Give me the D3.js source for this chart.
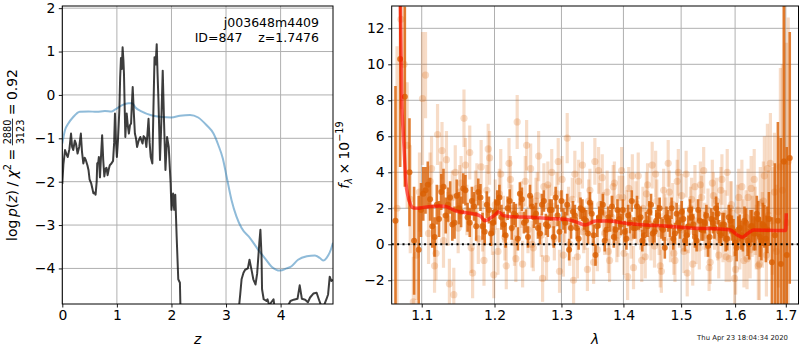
<!DOCTYPE html>
<html><head><meta charset="utf-8">
<script src="https://cdn.jsdelivr.net/npm/d3@7"></script>
<style>
body{margin:0;background:#fff}
svg{display:block}
text{font-family:"DejaVu Sans",sans-serif}
</style>
</head><body>
<svg id="c" width="800" height="350"></svg>
<script>
// ---------------- DATA ----------------
// Left panel: log p(z)
const pzZ = [0.00,0.02,0.05,0.08,0.10,0.13,0.16,0.18,0.20,0.23,0.25,0.28,0.31,0.34,0.36,0.385,0.41,0.43,0.46,0.48,
  0.50,0.53,0.55,0.57,0.59,0.61,0.63,0.64,0.66,0.67,0.69,0.71,0.73,0.75,0.77,0.79,0.81,0.83,0.85,0.87,
  0.90,0.93,0.95,0.965,0.98,1.00,1.02,1.045,1.06,1.075,1.09,1.105,1.12,1.13,1.145,1.155,1.17,1.18,1.20,1.22,
  1.24,1.26,1.275,1.29,1.31,1.33,1.35,1.37,1.40,1.43,1.45,1.47,1.49,1.52,1.54,1.56,1.58,1.60,1.62,1.65,
  1.67,1.69,1.71,1.73,1.745,1.76,1.78,1.79,1.81,1.84,1.865,1.89,1.92,1.95,1.985,2.00,2.03,2.05,2.07,2.095,
  2.125,2.155,2.17,2.20,3.20,3.24,3.26,3.285,3.32,3.35,3.40,3.43,3.47,3.50,3.54,3.57,3.61,3.63,3.65,3.66,
  3.69,3.74,3.76,3.79,3.83,3.87,3.89,3.95,4.10,4.14,4.18,4.24,4.31,4.35,4.39,4.45,4.50,4.54,4.60,4.66,
  4.70,4.74,4.78,4.84,4.87,4.90,4.93,4.96];
const pzLogP = [-2.05,-1.6,-1.27,-1.38,-1.43,-1.25,-0.89,-1.2,-1.27,-1.05,-1.12,-1.35,-1.2,-0.89,-1.3,-1.58,-1.45,-1.5,-1.62,-1.73,
  -1.95,-2.04,-2.15,-2.27,-2.25,-2.3,-2.0,-1.58,-1.55,-1.43,-1.9,-1.4,-0.93,-1.5,-1.88,-1.7,-1.68,-1.85,-1.72,-1.62,
  -1.58,-1.52,-1.1,-0.43,-1.0,-1.43,-1.05,-0.36,0.4,0.85,0.6,1.1,0.8,0.49,-0.4,-0.97,-0.6,-0.43,-0.7,-0.89,
  -0.7,-0.66,-0.2,0.18,-0.4,-0.89,-1.0,-1.2,-1.05,-0.97,-1.05,-1.12,-0.95,-1.0,-1.2,-0.9,-0.55,-1.1,-1.43,-1.58,
  -0.3,0.87,0.7,1.17,0.5,-0.05,-1.0,-1.5,-0.8,0.56,-0.66,-1.73,-0.97,-1.2,-2.04,-2.65,-2.27,-2.65,-2.3,-3.26,
  -4.25,-4.33,-5.2,-6,-6,-4.85,-4.6,-4.25,-4.1,-4.03,-4.0,-3.80,-4.05,-4.25,-4.37,-4.12,-3.41,-3.11,-3.7,-4.48,
  -4.71,-4.75,-4.71,-4.85,-4.78,-4.71,-4.9,-5.2,-5.2,-4.85,-4.75,-4.72,-4.70,-4.39,-4.70,-4.72,-4.78,-4.67,-4.58,-4.56,
  -4.71,-4.85,-4.9,-4.71,-4.6,-4.19,-4.29,-4.26];
// Left panel: scaled chi2
const chiZ = [0,0.05,0.11,0.2,0.32,0.48,0.63,0.78,0.9,0.965,1.09,1.21,1.28,1.34,1.45,1.63,1.82,2.0,2.155,2.34,
  2.49,2.645,2.77,2.86,2.94,3.01,3.10,3.19,3.285,3.44,3.59,3.71,3.835,3.99,4.11,4.2,4.32,4.48,4.63,4.72,4.78,4.84,4.92,4.96];
const chiVal = [-1.12,-0.81,-0.66,-0.51,-0.39,-0.38,-0.39,-0.37,-0.38,-0.34,-0.24,-0.19,-0.19,-0.29,-0.38,-0.47,-0.51,-0.52,-0.48,-0.46,
  -0.52,-0.70,-0.89,-1.16,-1.46,-1.88,-2.42,-2.80,-3.07,-3.30,-3.57,-3.76,-3.96,-4.05,-4.0,-3.95,-3.80,-3.72,-3.70,-3.76,-3.82,-3.76,-3.57,-3.41];
const leftXTicks = [0,1,2,3,4];
const leftYTicks = [-4,-3,-2,-1,0,1,2];
const annotLines = ["j003648m4409","ID=847    z=1.7476"];

// Right panel: spectrum, light points (set A)
const lightLam = [1.068,1.073,1.077,1.081,1.085,1.089,1.093,1.097,1.101,1.105,
  1.109,1.113,1.117,1.121,1.125,1.129,1.133,1.137,1.141,1.145,
  1.149,1.153,1.157,1.161,1.165,1.169,1.173,1.177,1.181,1.185,
  1.189,1.193,1.197,1.201,1.205,1.209,1.213,1.217,1.221,1.225,
  1.229,1.233,1.237,1.241,1.245,1.249,1.253,1.257,1.261,1.265,
  1.269,1.273,1.277,1.281,1.285,1.289,1.293,1.297,1.301,1.305,
  1.309,1.313,1.317,1.321,1.325,1.329,1.333,1.337,1.341,1.345,
  1.349,1.353,1.357,1.361,1.365,1.369,1.373,1.377,1.381,1.385,
  1.389,1.393,1.397,1.401,1.405,1.409,1.413,1.417,1.421,1.425,
  1.429,1.433,1.437,1.441,1.445,1.449,1.453,1.457,1.461,1.465,
  1.469,1.473,1.477,1.481,1.485,1.489,1.493,1.497,1.501,1.505,
  1.509,1.513,1.517,1.521,1.525,1.529,1.533,1.537,1.541,1.545,
  1.549,1.553,1.557,1.561,1.565,1.569,1.573,1.577,1.581,1.585,
  1.589,1.593,1.597,1.601,1.605,1.609,1.613,1.617,1.621,1.625,
  1.629,1.633,1.637,1.641,1.645,1.649,1.653,1.657,1.661,1.665,
  1.669,1.673,1.677,1.681,1.685,1.689,1.693,1.697,1.701,1.705];
const lightFlux = [2.0,12.5,10.0,5.5,2.5,-3.2,-0.6,2.9,8.1,9.4,
  0.6,4.2,-1.2,6.1,3.1,0.2,4.7,-2.2,2.6,4.0,
  0.9,3.4,7.0,1.9,5.1,-1.6,2.6,0.3,4.3,-0.9,
  3.0,4.8,0.7,2.2,-0.4,3.9,1.4,-1.2,4.5,2.0,
  0.1,6.8,1.6,-1.1,3.5,0.8,4.2,-0.2,2.4,4.9,
  0.5,3.2,-0.8,2.1,4.0,0.3,2.8,-1.5,3.6,1.3,
  5.9,0.0,2.5,3.9,-0.7,1.7,4.4,0.9,-1.4,3.0,
  1.2,4.6,-0.3,2.2,3.7,0.6,2.9,-0.9,1.5,3.4,
  0.2,2.6,4.1,-0.5,1.8,3.1,0.4,-1.3,2.3,3.8,
  0.9,2.0,-0.7,3.3,1.1,4.4,-0.1,2.4,0.6,-1.5,
  3.0,1.4,4.5,0.2,2.2,-0.9,3.5,1.0,2.7,-0.4,
  3.9,0.7,2.0,-1.1,3.2,1.3,-0.2,2.6,4.1,0.5,
  1.9,-1.0,3.4,0.9,2.4,-0.6,3.0,0.3,1.7,4.0,
  -0.8,2.2,0.6,-1.4,1.9,0.0,3.2,-0.9,1.5,2.6,
  -0.3,1.0,3.6,0.4,-1.2,2.3,0.8,3.8,-0.6,1.6,
  4.5,1.3,2.9,-0.4,1.8,4.3,3.0,4.6,1.2,4.6];
const lightErr = [9,5,4,3.5,3,2.5,2.5,2.2,3.7,2.4,
  1.7,1.8,1.5,1.7,1.5,1.5,1.6,1.4,1.5,1.5,
  1.4,1.5,1.6,1.4,1.5,1.4,1.5,1.4,1.5,1.4,
  1.4,1.5,1.3,1.4,1.3,1.4,1.3,1.3,1.4,1.3,
  1.3,1.5,1.3,1.3,1.4,1.3,1.4,1.3,1.3,1.4,
  1.2,1.3,1.2,1.2,1.3,1.2,1.2,1.2,1.3,1.2,
  1.4,1.2,1.2,1.3,1.2,1.2,1.3,1.2,1.2,1.2,
  1.2,1.3,1.2,1.2,1.3,1.2,1.2,1.2,1.2,1.2,
  1.2,1.2,1.3,1.2,1.2,1.2,1.2,1.2,1.2,1.3,
  1.2,1.2,1.2,1.2,1.2,1.3,1.2,1.2,1.2,1.2,
  1.2,1.2,1.3,1.2,1.2,1.2,1.2,1.2,1.2,1.2,
  1.3,1.2,1.2,1.2,1.2,1.2,1.2,1.2,1.3,1.2,
  1.2,1.2,1.3,1.2,1.3,1.3,1.3,1.3,1.3,1.3,
  1.3,1.3,1.3,1.4,1.4,1.4,1.5,1.5,1.5,1.6,
  1.6,1.7,1.7,1.8,1.9,2.0,2.1,2.2,2.3,2.5,
  2.8,3.0,3.3,3.7,4.2,5.5,7,9,10,8];
// light points (set B)
const lightLam2 = [1.111,1.119,1.127,1.135,1.143,1.151,1.159,1.167,1.175,1.183,
  1.191,1.199,1.207,1.215,1.223,1.231,1.239,1.247,1.255,1.263,
  1.271,1.279,1.287,1.295,1.303,1.311,1.319,1.327,1.335,1.343,
  1.351,1.359,1.367,1.375,1.383,1.391,1.399,1.407,1.415,1.423,
  1.431,1.439,1.447,1.455,1.463,1.471,1.479,1.487,1.495,1.503,
  1.511,1.519,1.527,1.535,1.543,1.551,1.559,1.567,1.575,1.583,
  1.591,1.599,1.607,1.615,1.623,1.631,1.639,1.647,1.655,1.663];
const lightFlux2 = [3.5,-0.5,5.2,1.4,-2.8,2.9,4.4,-0.2,3.1,1.0,
  5.3,-1.7,2.8,0.4,3.6,-0.8,2.2,5.5,0.0,2.7,
  -1.9,3.3,1.1,4.6,-0.6,2.0,-2.0,3.5,0.7,2.4,
  -1.0,4.1,1.7,-0.4,3.2,0.5,2.6,-1.8,3.8,1.2,
  -0.9,2.8,0.3,3.9,-1.2,1.6,2.9,-0.5,4.0,0.8,
  -1.6,2.5,0.1,3.3,1.0,-1.3,2.7,0.4,3.6,-0.7,
  2.0,-1.9,2.6,0.9,-0.8,3.1,1.3,-1.1,2.4,4.2];
const lightErr2 = [1.6,1.5,1.6,1.5,1.5,1.5,1.5,1.4,1.4,1.4,
  1.4,1.3,1.4,1.3,1.3,1.3,1.3,1.4,1.3,1.3,
  1.3,1.3,1.2,1.3,1.2,1.2,1.3,1.2,1.2,1.2,
  1.2,1.3,1.2,1.2,1.2,1.2,1.2,1.3,1.2,1.2,
  1.2,1.2,1.2,1.3,1.2,1.2,1.2,1.2,1.3,1.2,
  1.3,1.2,1.2,1.3,1.3,1.3,1.3,1.3,1.4,1.4,
  1.5,1.5,1.6,1.6,1.7,1.8,1.9,2.0,2.2,2.5];
// Right panel: spectrum, dark points (set A)
const darkLam = [1.066,1.072,1.078,1.084,1.090,1.096,1.102,1.108,1.114,1.120,
  1.126,1.132,1.138,1.144,1.150,1.156,1.162,1.168,1.174,1.180,
  1.186,1.192,1.198,1.204,1.210,1.216,1.222,1.228,1.234,1.240,
  1.246,1.252,1.258,1.264,1.270,1.276,1.282,1.288,1.294,1.300,
  1.306,1.312,1.318,1.324,1.330,1.336,1.342,1.348,1.354,1.360,
  1.366,1.372,1.378,1.384,1.390,1.396,1.402,1.408,1.414,1.420,
  1.426,1.432,1.438,1.444,1.450,1.456,1.462,1.468,1.474,1.480,
  1.486,1.492,1.498,1.504,1.510,1.516,1.522,1.528,1.534,1.540,
  1.546,1.552,1.558,1.564,1.570,1.576,1.582,1.588,1.594,1.600,
  1.606,1.612,1.618,1.624,1.630,1.636,1.642,1.648,1.654,1.660,
  1.666,1.672,1.678,1.684,1.690,1.696,1.702,1.708];
const darkFlux = [1.3,10.3,8.2,4.0,0.2,-0.3,2.8,3.3,1.0,2.2,
  2.9,1.6,2.6,1.2,2.0,3.1,1.5,2.4,1.0,2.6,
  0.7,1.9,1.2,2.3,1.5,0.5,2.4,1.7,0.3,2.5,
  1.3,2.7,1.5,0.9,2.2,1.1,1.9,0.4,1.6,2.4,
  1.2,-0.3,1.8,0.9,2.0,1.4,0.6,1.7,-0.6,1.5,
  2.2,0.8,1.3,0.4,1.9,1.1,0.7,1.6,2.4,0.9,
  1.4,0.2,1.2,1.8,0.6,1.3,2.0,0.8,1.5,1.0,
  0.3,1.7,0.9,1.4,0.5,1.9,1.1,0.2,1.3,0.8,
  1.6,0.4,1.2,2.0,0.7,1.1,0.3,1.5,0.9,0.1,
  0.8,0.5,1.3,0.2,1.0,0.6,1.7,0.4,1.1,0.3,
  1.4,-1.0,0.5,1.3,-1.1,4.6,-0.6,4.8];
const darkErr = [7.5,6,5,3,3,3,1.5,1.3,1.2,1.1,
  1.0,1.0,0.9,0.9,0.9,0.85,0.8,0.8,0.8,0.75,
  0.75,0.75,0.7,0.7,0.7,0.7,0.65,0.65,0.65,0.65,
  0.65,0.6,0.6,0.6,0.6,0.6,0.6,0.6,0.6,0.6,
  0.6,0.6,0.6,0.6,0.6,0.6,0.6,0.6,0.6,0.6,
  0.6,0.6,0.6,0.6,0.6,0.6,0.6,0.6,0.6,0.6,
  0.6,0.6,0.6,0.6,0.6,0.6,0.6,0.6,0.6,0.6,
  0.6,0.6,0.6,0.6,0.6,0.6,0.6,0.6,0.6,0.6,
  0.6,0.6,0.6,0.65,0.65,0.65,0.7,0.7,0.7,0.75,
  0.75,0.8,0.8,0.85,0.9,0.95,1.0,1.1,1.2,1.3,
  1.5,2.5,4,5.5,7,9,6,7];
// dark points (set B)
const darkLam2 = [1.099,1.105,1.111,1.117,1.123,1.129,1.135,1.141,1.147,1.153,
  1.159,1.165,1.171,1.177,1.183,1.189,1.195,1.201,1.207,1.213,
  1.219,1.225,1.231,1.237,1.243,1.249,1.255,1.261,1.267,1.273,
  1.279,1.285,1.291,1.297,1.303,1.309,1.315,1.321,1.327,1.333,
  1.339,1.345,1.351,1.357,1.363,1.369,1.375,1.381,1.387,1.393,
  1.399,1.405,1.411,1.417,1.423,1.429,1.435,1.441,1.447,1.453,
  1.459,1.465,1.471,1.477,1.483,1.489,1.495,1.501,1.507,1.513,
  1.519,1.525,1.531,1.537,1.543,1.549,1.555,1.561,1.567,1.573,
  1.579,1.585,1.591,1.597,1.603,1.609,1.615,1.621,1.627,1.633,
  1.639,1.645,1.651,1.657,1.663];
const darkFlux2 = [1.9,3.0,2.5,0.4,1.4,3.2,2.2,1.1,2.7,1.8,
  3.0,1.2,2.1,2.9,1.0,2.2,0.6,1.8,2.6,1.1,
  2.0,0.9,1.6,2.8,1.2,0.4,2.1,1.7,0.6,2.4,
  1.0,1.9,2.6,0.7,1.4,2.2,0.9,1.6,0.3,1.9,
  1.3,2.3,0.5,1.0,1.8,0.2,1.5,2.1,0.8,1.4,
  1.9,0.3,1.2,0.9,2.1,1.5,0.5,1.0,2.2,0.7,
  1.6,0.9,-0.2,1.3,2.0,0.6,1.2,1.8,0.2,1.0,
  1.5,0.4,1.9,0.8,1.2,-0.1,1.4,0.9,1.7,0.5,
  1.1,0.3,1.3,0.7,-0.2,0.9,0.4,1.2,0.0,1.0,
  0.6,1.4,0.2,1.0,0.8];
const darkErr2 = [1.5,1.3,1.2,1.1,1.0,1.0,0.95,0.9,0.9,0.85,
  0.85,0.8,0.8,0.75,0.75,0.75,0.7,0.7,0.7,0.7,
  0.65,0.65,0.65,0.65,0.6,0.6,0.6,0.6,0.6,0.6,
  0.6,0.6,0.6,0.6,0.6,0.6,0.6,0.6,0.6,0.6,
  0.6,0.6,0.6,0.6,0.6,0.6,0.6,0.6,0.6,0.6,
  0.6,0.6,0.6,0.6,0.6,0.6,0.6,0.6,0.6,0.6,
  0.6,0.6,0.6,0.6,0.6,0.6,0.6,0.6,0.6,0.6,
  0.6,0.6,0.6,0.6,0.6,0.6,0.6,0.6,0.6,0.6,
  0.65,0.65,0.7,0.7,0.75,0.75,0.8,0.8,0.85,0.9,
  0.95,1.0,1.1,1.2,1.3];
// Right panel: model
const modelLam = [1.072,1.074,1.076,1.078,1.0795,1.082,1.0847,1.0885,1.095,1.102,1.112,1.124,1.132,1.138,1.146,1.1656,1.18,1.186,1.1938,1.2,
  1.2057,1.2128,1.225,1.2523,1.275,1.306,1.3217,1.3376,1.3538,1.3755,1.4033,1.4373,1.472,1.523,1.5724,1.5914,1.604,1.6138,1.6247,1.6364,
  1.663,1.6996,1.7005,1.701];
const modelFlux = [14,8.0,6.17,4.5,3.39,2.7,2.28,2.03,2.0,2.05,2.1,2.13,2.1,2.0,1.85,1.72,1.57,1.31,1.44,1.6,
  1.81,1.59,1.53,1.5,1.44,1.39,1.26,1.07,1.29,1.29,1.17,1.07,1.02,0.89,0.85,0.79,0.52,0.39,0.61,0.79,
  0.78,0.76,1.3,1.72];
const rightXTicks = [1.1,1.2,1.3,1.4,1.5,1.6,1.7];
const rightYTicks = [-2,0,2,4,6,8,10,12];
const timestamp = "Thu Apr 23 18:04:34 2020";

// ---------------- DRAW ----------------
const svg = d3.select("#c");
const FS = 13.9;
const gridColor = "#b0b0b0";

function setupAxes(id, x, y, xt, yt, xfmt, yfmt) {
  const [x0, x1] = x.range(), [y1, y0] = y.range();
  const g = svg.append("g");
  svg.append("clipPath").attr("id", id).append("rect")
    .attr("x", x0).attr("y", y0).attr("width", x1 - x0).attr("height", y1 - y0);
  const grid = g.append("g");
  grid.selectAll(".gx").data(xt).join("line")
    .attr("x1", d => x(d)).attr("x2", d => x(d)).attr("y1", y0).attr("y2", y1)
    .attr("stroke", gridColor).attr("stroke-width", 1);
  grid.selectAll(".gy").data(yt).join("line")
    .attr("y1", d => y(d)).attr("y2", d => y(d)).attr("x1", x0).attr("x2", x1)
    .attr("stroke", gridColor).attr("stroke-width", 1);
  const plot = g.append("g").attr("clip-path", `url(#${id})`);
  const over = g.append("g");
  const ax = over.append("g").attr("transform", `translate(0,${y1})`)
    .call(d3.axisBottom(x).tickValues(xt).tickFormat(xfmt).tickSize(3.5).tickPadding(3));
  const ay = over.append("g").attr("transform", `translate(${x0},0)`)
    .call(d3.axisLeft(y).tickValues(yt).tickFormat(yfmt).tickSize(3.5).tickPadding(3.5));
  [ax, ay].forEach(a => {
    a.select(".domain").remove();
    a.attr("font-family", null).attr("font-size", null);
    a.selectAll("text").attr("font-size", FS).attr("fill", "#000");
    a.selectAll("line").attr("stroke", "#000").attr("stroke-width", 0.9);
  });
  over.append("rect").attr("x", x0).attr("y", y0).attr("width", x1 - x0).attr("height", y1 - y0)
    .attr("fill", "none").attr("stroke", "#000").attr("stroke-width", 1);
  return { plot, over };
}

// ---- left panel
const xL = d3.scaleLinear().domain([0, 4.96]).range([62.3, 333]);
const yL = d3.scaleLinear().domain([-4.82, 2.05]).range([304, 6]);
const L = setupAxes("clipL", xL, yL, leftXTicks, leftYTicks, d3.format("d"), d3.format("d"));

L.plot.append("path")
  .attr("d", d3.line().x(d => xL(d[0])).y(d => yL(d[1])).curve(d3.curveMonotoneX)(d3.zip(chiZ, chiVal)))
  .attr("fill", "none").attr("stroke", "#1f77b4").attr("stroke-opacity", 0.5).attr("stroke-width", 2);
L.plot.append("path")
  .attr("d", d3.line().x(d => xL(d[0])).y(d => yL(d[1]))(d3.zip(pzZ, pzLogP)))
  .attr("fill", "none").attr("stroke", "#000").attr("stroke-opacity", 0.76).attr("stroke-width", 2)
  .attr("stroke-linejoin", "round");

annotLines.forEach((t, i) => {
  L.over.append("text").attr("x", 319).attr("y", 27.3 + i * 14.4).attr("text-anchor", "end")
    .attr("font-size", 12.5).style("white-space", "pre").attr("fill", "#000").text(t);
});

// ---- right panel
const xR = d3.scaleLog().domain([1.0612, 1.726]).range([391.7, 798.5]);
const yR = d3.scaleLinear().domain([-3.32, 13.24]).range([304, 6]);
const R = setupAxes("clipR", xR, yR, rightXTicks, rightYTicks, d3.format(".1f"), d3.format("d"));

const ORANGE = "#d95f02";
function drawPoints(lam, flux, err, op, bw, r) {
  const data = d3.zip(lam, flux, err);
  const g = R.plot.append("g");
  g.selectAll("line").data(data).join("line")
    .attr("x1", d => xR(d[0])).attr("x2", d => xR(d[0]))
    .attr("y1", d => yR(d[1] - d[2])).attr("y2", d => yR(d[1] + d[2]))
    .attr("stroke", ORANGE).attr("stroke-opacity", op).attr("stroke-width", bw);
  g.selectAll("circle").data(data).join("circle")
    .attr("cx", d => xR(d[0])).attr("cy", d => yR(d[1])).attr("r", r)
    .attr("fill", ORANGE).attr("fill-opacity", op);
}
drawPoints(lightLam2, lightFlux2, lightErr2, 0.22, 3.2, 3.6);
drawPoints(lightLam, lightFlux, lightErr, 0.22, 3.2, 3.6);
drawPoints(darkLam2, darkFlux2, darkErr2, 0.8, 2.6, 3.0);
drawPoints(darkLam, darkFlux, darkErr, 0.8, 2.6, 3.0);

R.plot.append("line").attr("x1", 391.7).attr("x2", 798.5).attr("y1", yR(0)).attr("y2", yR(0))
  .attr("stroke", "#000").attr("stroke-width", 2).attr("stroke-dasharray", "2,3.4");

R.plot.append("path")
  .attr("d", d3.line().x(d => xR(d[0])).y(d => yR(d[1])).curve(d3.curveMonotoneX)(d3.zip(modelLam, modelFlux)))
  .attr("fill", "none").attr("stroke", "#ff0000").attr("stroke-opacity", 0.6).attr("stroke-width", 3.5)
  .attr("stroke-linejoin", "round");

// ---- labels
function mathLabel(parent, parts, fs) {
  const g = parent.append("g");
  let x = 0;
  parts.forEach(p => {
    if (p.gap) { x += p.gap * fs; return; }
    if (p.frac) {
      const s = fs * 0.7;
      const n = g.append("text").attr("font-size", s).text(p.frac[0]);
      const d = g.append("text").attr("font-size", s).text(p.frac[1]);
      const w = Math.max(n.node().getComputedTextLength(), d.node().getComputedTextLength());
      n.attr("x", x + w / 2 + 1).attr("y", -fs * 0.42).attr("text-anchor", "middle");
      d.attr("x", x + w / 2 + 1).attr("y", fs * 0.5).attr("text-anchor", "middle");
      g.append("line").attr("x1", x).attr("x2", x + w + 2)
        .attr("y1", -fs * 0.31).attr("y2", -fs * 0.31).attr("stroke", "#000").attr("stroke-width", 0.8);
      x += w + 2;
      return;
    }
    const t = g.append("text").attr("x", x).attr("y", (p.dy || 0) * fs)
      .attr("font-size", fs * (p.scale || 1))
      .style("font-style", p.it ? "italic" : "normal").attr("fill", "#000").text(p.t);
    x += t.node().getComputedTextLength();
  });
  g.attr("transform", `translate(${-x / 2},0)`);
  return g;
}

const labL = svg.append("g").attr("transform", "translate(16.8,155) rotate(-90)");
mathLabel(labL, [
  { t: "log" }, { gap: 0.2 }, { t: "p", it: true }, { t: "(" }, { t: "z", it: true }, { t: ")" },
  { gap: 0.25 }, { t: "/" }, { gap: 0.25 }, { t: "χ", it: true }, { t: "2", scale: 0.7, dy: -0.42 },
  { gap: 0.25 }, { t: "=" }, { gap: 0.25 }, { frac: ["2880", "3123"] }, { gap: 0.25 }, { t: "=" },
  { gap: 0.25 }, { t: "0.92" }
], FS);

const labR = svg.append("g").attr("transform", "translate(349,155) rotate(-90)");
mathLabel(labR, [
  { t: "f", it: true }, { t: "λ", it: true, scale: 0.7, dy: 0.22 }, { gap: 0.25 }, { t: "×" }, { gap: 0.25 },
  { t: "10" }, { t: "−19", scale: 0.7, dy: -0.42 }
], FS);

svg.append("text").attr("x", 197.7).attr("y", 343.5).attr("text-anchor", "middle")
  .attr("font-size", FS).style("font-style", "italic").text("z");
svg.append("text").attr("x", 595).attr("y", 343.5).attr("text-anchor", "middle")
  .attr("font-size", FS).style("font-style", "italic").text("λ");

svg.append("text").attr("x", 788).attr("y", 339.5).attr("text-anchor", "end")
  .attr("font-size", 6.9).attr("fill", "#222").text(timestamp);
</script>
</body></html>
